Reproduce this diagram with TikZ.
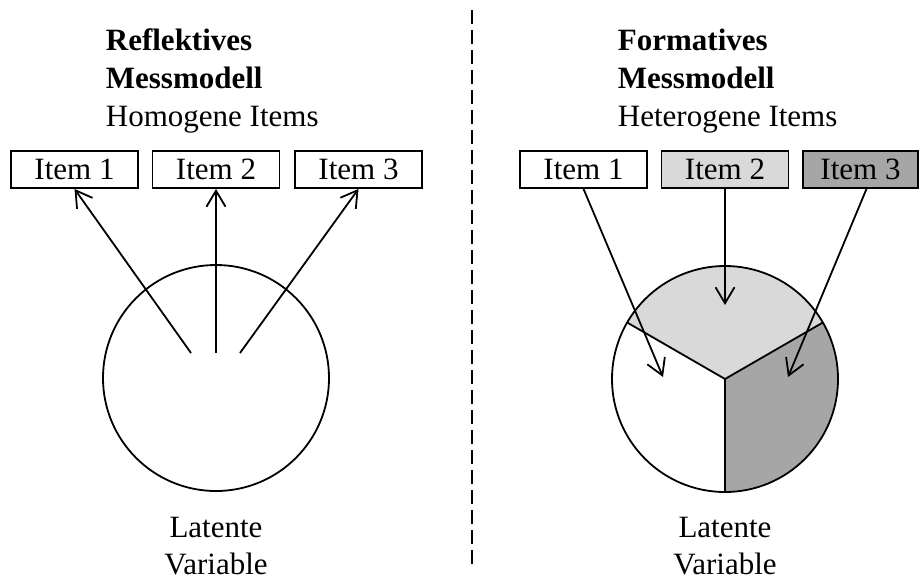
\documentclass[tikz,border=0pt]{standalone}
\usepackage{fontspec}
\setmainfont{Liberation Serif}
\usetikzlibrary{arrows.meta}
\usepackage{xcolor}
\definecolor{ItemLight}{HTML}{D9D9D9}
\definecolor{ItemDark}{HTML}{A6A6A6}

\begin{document}
\begin{tikzpicture}[x=1pt, y=-1pt, line width=1.8pt,
   >={Straight Barb[length=16pt,width=19pt]},
   font=\fontsize{31}{37}\selectfont,
   title/.style={anchor=base west, inner sep=0pt},
   head/.style={title, font=\fontsize{31}{37}\selectfont\bfseries},
   item/.style={draw, minimum width=127pt, minimum height=37pt, inner sep=0pt},
   latent/.style={draw, circle, minimum size=226pt, inner sep=0pt, outer sep=0pt},
   caption/.style={anchor=base, inner sep=0pt}]
  \useasboundingbox (0,0) rectangle (920,579);

  % reflektiv
  \node[head]  (lt1) at (105,50)  {Reflektives};
  \node[head]  (lt2) at (105,88)  {Messmodell};
  \node[title] (lt3) at (105,126) {Homogene Items};
  \node[item] (l1) at (74.5,169.5)  {Item 1};
  \node[item] (l2) at (216,169.5) {Item 2};
  \node[item] (l3) at (358.5,169.5) {Item 3};
  \node[latent] (lc) at (216,378) {};
  \coordinate (la1) at (191,353);
  \coordinate (la2) at (216,353);
  \coordinate (la3) at (240,353);
  \draw[->] (la1) -- (l1.south);
  \draw[->] (la2) -- (l2.south);
  \draw[->] (la3) -- (l3.south);
  \node[caption] (lv1) at (216,537) {Latente};
  \node[caption] (lv2) at (216,574) {Variable};

  % trenner
  \draw[line width=1.5pt, dash pattern=on 14pt off 6pt] (472,10) -- (472,566);

  % formativ
  \node[head]  (rt1) at (617,50)  {Formatives};
  \node[head]  (rt2) at (617,88)  {Messmodell};
  \node[title] (rt3) at (617,126) {Heterogene Items};
  \node[item] (r1) at (583.5,169.5) {Item 1};
  \node[item, fill=ItemLight] (r2) at (725,169.5) {Item 2};
  \node[item, fill=ItemDark, minimum width=115pt] (r3) at (860.5,169.5) {Item 3};
  \coordinate (rm) at (725,379);
  \fill[ItemLight] (rm) -- ++(30:113pt) arc[start angle=30, end angle=150, radius=113pt] -- cycle;
  \fill[ItemDark] (rm) -- ++(-90:113pt) arc[start angle=-90, end angle=30, radius=113pt] -- cycle;
  \node[latent] (rc) at (rm) {};
  \draw (rc.center) -- (rc.30);
  \draw (rc.center) -- (rc.150);
  \draw (rc.center) -- (rc.270);
  \coordinate (ra1) at (663,377);
  \coordinate (ra2) at (725,305);
  \coordinate (ra3) at (788,377);
  \draw[->] (r1.south) -- (ra1);
  \draw[->] (r2.south) -- (ra2);
  \draw[->] ([xshift=6pt]r3.south) -- (ra3);
  \node[caption] (rv1) at (725,537) {Latente};
  \node[caption] (rv2) at (725,574) {Variable};
\end{tikzpicture}
\end{document}
